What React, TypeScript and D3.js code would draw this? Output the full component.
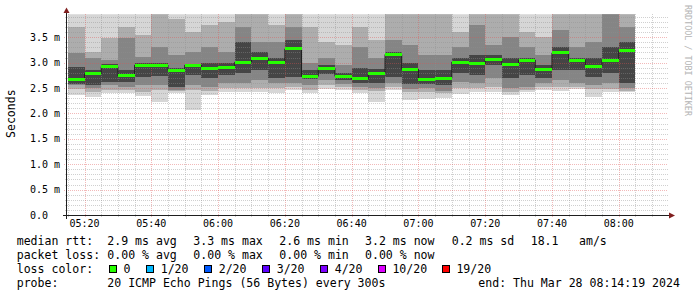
import React from "react";
import * as d3 from "d3";

// ---- data (values in milliseconds) ----
const colStart = [
  "05:15","05:20","05:25","05:30","05:35","05:40","05:45","05:50","05:55",
  "06:00","06:05","06:10","06:15","06:20","06:25","06:30","06:35","06:40","06:45","06:50","06:55",
  "07:00","07:05","07:10","07:15","07:20","07:25","07:30","07:35","07:40","07:45","07:50","07:55",
  "08:00",
];
const median = [2.66,2.78,2.92,2.74,2.95,2.95,2.85,2.95,2.88,2.91,3.01,3.09,3.0,3.27,2.73,2.89,2.73,2.68,2.79,3.16,2.87,2.67,2.69,3.01,2.98,3.06,2.96,3.05,2.87,3.19,3.05,2.92,3.05,3.23];
// smoke band edges (outermost = 1 ... innermost = 4)
const smokeHi1 = [4.3,4.1,4.2,4.4,4.2,4.6,4.1,4.3,4.2,4.5,4.8,4.6,4.3,4.9,4.2,4.1,4.0,4.3,4.1,4.7,4.6,4.5,4.3,4.2,4.6,4.5,4.6,4.2,4.1,4.7,4.5,4.4,4.9,4.8];
const smokeHi2 = [3.71,3.21,3.48,3.71,3.54,4.1,3.85,3.6,3.75,3.8,4.2,4.1,3.75,4.3,3.7,3.4,3.35,3.7,3.45,4.1,4.0,4.0,3.95,3.6,4.1,4.0,4.0,3.6,3.5,4.2,4.0,4.0,4.3,4.2];
const smokeHi3 = [3.19,3.1,3.05,3.48,3.12,3.3,3.15,3.2,3.3,3.2,3.7,3.4,3.4,3.7,3.0,3.1,2.95,3.3,3.1,3.45,3.35,3.15,3.15,3.3,3.75,3.35,3.5,3.3,3.15,3.65,3.3,3.4,4.0,3.7];
const smokeHi4 = [2.92,2.85,2.98,2.85,2.99,3.0,2.9,2.98,3.0,3.0,3.4,3.2,3.1,3.45,2.85,2.95,2.8,2.9,2.88,3.2,3.0,2.85,2.85,3.1,3.15,3.15,3.1,3.1,2.95,3.3,3.1,3.1,3.3,3.4];
const smokeLo4 = [2.58,2.55,2.62,2.62,2.72,2.74,2.52,2.75,2.7,2.75,2.8,2.85,2.7,2.72,2.68,2.78,2.66,2.6,2.6,2.72,2.58,2.58,2.55,2.8,2.75,2.95,2.7,2.75,2.7,2.85,2.85,2.72,2.8,2.6];
const smokeLo3 = [2.56,2.5,2.55,2.52,2.55,2.55,2.47,2.55,2.52,2.6,2.6,2.65,2.6,2.6,2.55,2.65,2.58,2.52,2.5,2.6,2.48,2.5,2.45,2.62,2.6,2.7,2.5,2.52,2.6,2.65,2.6,2.55,2.6,2.5];
const smokeLo2 = [2.49,2.43,2.47,2.46,2.42,2.46,2.44,2.47,2.45,2.5,2.5,2.5,2.5,2.52,2.47,2.55,2.52,2.47,2.45,2.52,2.43,2.43,2.4,2.5,2.5,2.52,2.42,2.47,2.52,2.52,2.52,2.48,2.48,2.45];
const smokeLo1 = [2.36,2.32,2.4,2.4,2.34,2.23,2.4,2.07,2.36,2.43,2.43,2.43,2.4,2.46,2.4,2.49,2.47,2.4,2.23,2.46,2.26,2.28,2.3,2.38,2.42,2.43,2.36,2.42,2.46,2.45,2.48,2.33,2.43,2.42];

const yTickValues = [0, 0.5, 1.0, 1.5, 2.0, 2.5, 3.0, 3.5];
const yTickLabels = ["0.0", "0.5 m", "1.0 m", "1.5 m", "2.0 m", "2.5 m", "3.0 m", "3.5 m"];
const xTickLabels = ["05:20", "05:40", "06:00", "06:20", "06:40", "07:00", "07:20", "07:40", "08:00"];

const legendRows = [
  { label: "median rtt:", items: ["2.9 ms avg", "3.3 ms max", "2.6 ms min", "3.2 ms now", "0.2 ms sd", "18.1", "am/s"] },
  { label: "packet loss:", items: ["0.00 % avg", "0.00 % max", "0.00 % min", "0.00 % now"] },
];
const legendItemX = [107.3, 193.3, 279.3, 365, 451.7, 530.7, 579];
const lossLabels = ["0", "1/20", "2/20", "3/20", "4/20", "10/20", "19/20"];
const lossColors = ["#26ff00", "#00b8ff", "#0059ff", "#5e00ff", "#7e00ff", "#dd00ff", "#ff0000"];
const lossBoxX = [108.7, 146, 204, 262, 320, 377.7, 441.7];
const probeText = "20 ICMP Echo Pings (56 Bytes) every 300s";
const endText = "end: Thu Mar 28 08:14:19 2024";

const MONO = "'DejaVu Sans Mono', monospace";
const P = { left: 67, right: 668, top: 14.35, bottom: 215 };

function hm(s: string) {
  const [h, m, sec] = s.split(":").map(Number);
  return new Date(2024, 2, 28, h, m, sec || 0);
}

export default function App() {
  const x = d3.scaleTime().domain([hm("05:14:45"), hm("08:14:45")]).range([P.left, P.right]);
  const y = d3.scaleLinear().domain([0, 3.95]).range([P.bottom, P.top]);
  const step = 5 * 60 * 1000;
  const cols = colStart.map((s, i) => {
    const t = hm(s);
    return { i, x0: x(t), x1: x(new Date(+t + step)) };
  });
  const bands = [
    { hi: smokeHi1, lo: smokeLo1, color: "#d6d6d6" },
    { hi: smokeHi2, lo: smokeLo2, color: "#adadad" },
    { hi: smokeHi3, lo: smokeLo3, color: "#858585" },
    { hi: smokeHi4, lo: smokeLo4, color: "#454545" },
  ];

  const minorY = d3.range(1, 40).map((i) => i / 10).filter((v) => Math.round(v * 10) % 5 !== 0);
  const majorY = yTickValues.filter((v) => v > 0);
  const t0 = hm("05:15");
  const allX = d3.range(0, 37).map((i) => new Date(+t0 + i * step)).filter((d) => x(d) <= P.right + 0.5);
  const majorX = xTickLabels.map(hm);
  const minorX = allX.filter((d) => d.getMinutes() % 20 !== 0);

  const medLine = d3
    .line<number>()
    .x((_, i) => (i < cols.length ? cols[i].x0 : cols[cols.length - 1].x1))
    .y((d) => y(d))
    .curve(d3.curveStepAfter);
  const medPts = [...median, median[median.length - 1]];

  const px = (v: number) => Math.round(v) + 0.5;
  const gridMinor = "rgba(143,143,143,0.42)";
  const gridMajor = "rgba(222,79,79,0.4)";

  return (
    <svg
      width={697}
      height={297}
      style={{ position: "absolute", left: 0, top: 0, background: "#fff" }}
    >
      <rect x={0} y={0} width={697} height={297} fill="#fff" />
      <defs>
        <clipPath id="plot">
          <rect x={P.left} y={P.top} width={P.right - P.left} height={P.bottom - P.top} />
        </clipPath>
      </defs>
      <g clipPath="url(#plot)" shapeRendering="crispEdges">
        {bands.map((b, bi) =>
          cols.map((c) => (
            <rect
              key={`b${bi}-${c.i}`}
              x={c.x0}
              width={c.x1 - c.x0}
              y={y(b.hi[c.i])}
              height={y(b.lo[c.i]) - y(b.hi[c.i])}
              fill={b.color}
            />
          ))
        )}
      </g>
      {/* grid */}
      <g shapeRendering="crispEdges" strokeDasharray="1,1" strokeWidth={1}>
        {minorY.map((v) => (
          <line key={`my${v}`} x1={P.left - 2} x2={P.right} y1={px(y(v))} y2={px(y(v))} stroke={gridMinor} />
        ))}
        {minorX.map((d) => (
          <line key={`mx${+d}`} x1={px(x(d))} x2={px(x(d))} y1={P.top} y2={P.bottom + 2} stroke={gridMinor} />
        ))}
        {majorY.map((v) => (
          <line key={`My${v}`} x1={P.left - 3} x2={P.right} y1={px(y(v))} y2={px(y(v))} stroke={gridMajor} />
        ))}
        {majorX.map((d) => (
          <line key={`Mx${+d}`} x1={px(x(d))} x2={px(x(d))} y1={P.top} y2={P.bottom + 3} stroke={gridMajor} />
        ))}
      </g>
      {/* median */}
      <g clipPath="url(#plot)">
        <path d={medLine(medPts) || ""} fill="none" stroke="#1e1e1e" strokeWidth={1} />
        {cols.map((c) => (
          <rect
            key={`m${c.i}`}
            x={c.x0}
            width={c.x1 - c.x0}
            y={Math.round(y(median[c.i]) - 1.5)}
            height={3}
            fill={lossColors[0]}
            shapeRendering="crispEdges"
          />
        ))}
      </g>
      {/* axes */}
      <g shapeRendering="crispEdges">
        <line x1={63} x2={670} y1={P.bottom + 0.5} y2={P.bottom + 0.5} stroke="#1f1f1f" />
        <line x1={P.left - 0.5} x2={P.left - 0.5} y1={219} y2={12} stroke="#1f1f1f" />
      </g>
      <path d={`M${P.left - 0.5},7.5 L${P.left - 3.5},13 L${P.left + 2.5},13 Z`} fill="#801f1f" />
      <path d={`M675,${P.bottom + 0.5} L669,${P.bottom - 2.5} L669,${P.bottom + 3.5} Z`} fill="#801f1f" />
      {/* tick labels */}
      <g fontFamily={MONO} fontSize={10} fill="#000">
        {yTickValues.map((v, i) => (
          <text key={`yl${v}`} x={30} y={y(v) + 3.6}>
            {yTickLabels[i]}
          </text>
        ))}
        {majorX.map((d, i) => (
          <text key={`xl${i}`} x={x(d)} y={226.5} textAnchor="middle">
            {xTickLabels[i]}
          </text>
        ))}
      </g>
      <text
        transform={`translate(15,${(P.top + P.bottom) / 2 - 1}) rotate(-90)`}
        textAnchor="middle"
        fontFamily={MONO}
        fontSize={11.5}
        fill="#000"
      >
        Seconds
      </text>
      <text
        transform="translate(685,5) rotate(90)"
        fontFamily={MONO}
        fontSize={8.4}
        fill="#b4b4b4"
      >
        RRDTOOL / TOBI OETIKER
      </text>
      {/* legend */}
      <g fontFamily={MONO} fontSize={11.55} fill="#000" style={{ whiteSpace: "pre" }}>
        {legendRows.map((r, ri) => (
          <g key={`lr${ri}`}>
            <text x={16.7} y={245.3 + ri * 13.8}>
              {r.label}
            </text>
            {r.items.map((it, ii) => (
              <text key={`li${ii}`} x={legendItemX[ii]} y={245.3 + ri * 13.8}>
                {it}
              </text>
            ))}
          </g>
        ))}
        <text x={16.7} y={272.9}>
          loss color:
        </text>
        {lossLabels.map((l, i) => (
          <g key={`loss${i}`}>
            <rect
              x={lossBoxX[i] + 0.5}
              y={265.5}
              width={7}
              height={7}
              fill={lossColors[i]}
              stroke="#000"
              strokeWidth={1}
              shapeRendering="crispEdges"
            />
            <text x={lossBoxX[i] + 14.7} y={272.9}>
              {l}
            </text>
          </g>
        ))}
        <text x={16.7} y={286.6}>
          probe:
        </text>
        <text x={107.3} y={286.6}>
          {probeText}
        </text>
        <text x={478.3} y={286.6}>
          {endText}
        </text>
      </g>
    </svg>
  );
}
